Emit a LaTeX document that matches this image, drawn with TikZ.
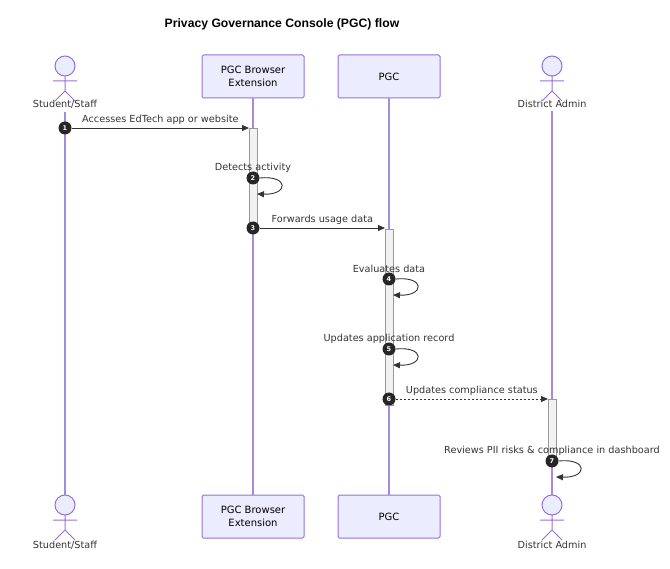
\documentclass[tikz,border=0pt]{standalone}
\usepackage{fontspec}
\setmainfont{DejaVu Sans}
\newfontfamily\titlefont{Liberation Sans}
\usetikzlibrary{arrows.meta}
\definecolor{lifeline}{HTML}{A58BE0}
\definecolor{boxline}{HTML}{9370DB}
\definecolor{boxfill}{HTML}{ECECFF}
\definecolor{msg}{HTML}{333333}
\tikzset{
  part/.style={draw=boxline,fill=boxfill,line width=1pt,rounded corners=1.5pt,minimum width=102pt,minimum height=43pt,align=center,font=\fontsize{10}{13}\selectfont},
  life/.style={draw=lifeline,line width=1.2pt},
  act/.style={draw=gray!80,fill=gray!10,line width=0.6pt},
  msgline/.style={draw=msg,line width=0.9pt,-{Triangle[length=7pt,width=6pt]}},
  seq/.style={circle,fill=black!85,text=white,inner sep=0pt,minimum size=13pt,font=\fontsize{6.5}{6.5}\selectfont\bfseries},
  lbl/.style={font=\fontsize{9.7}{12}\selectfont,text=msg}
}
\newcommand{\actorfig}[2]{%
  \draw[draw=boxline,fill=boxfill,line width=1pt] (#1,#2) circle (10pt);
  \draw[draw=boxline,line width=1pt] (#1,#2+10) -- (#1,#2+25)
    (#1-12,#2+15) -- (#1+12,#2+15)
    (#1-10,#2+35) -- (#1,#2+25) -- (#1+10,#2+35);}
\begin{document}
\begin{tikzpicture}[x=1pt,y=-1pt]
\useasboundingbox (0,0) rectangle (670,569);
\node[font=\titlefont\bfseries\fontsize{12.2}{14}\selectfont] at (282,24) {Privacy Governance Console (PGC) flow};
% participants
\node[part] (extT) at (253,76.5) {PGC Browser\\Extension};
\node[part] (pgcT) at (389,76.5) {PGC};
\node[part] (extB) at (253,516.5) {PGC Browser\\Extension};
\node[part] (pgcB) at (389,516.5) {PGC};
\node[lbl] (stuT) at (65,104) {Student/Staff};
\node[lbl] (admT) at (552,104) {District Admin};
\node[lbl] (stuB) at (65,545) {Student/Staff};
\node[lbl] (admB) at (552,545) {District Admin};
% lifelines
\draw[life] (stuT.south) -- (65,496);
\draw[life] (extT.south) -- (extB.north);
\draw[life] (pgcT.south) -- (pgcB.north);
\draw[life] (admT.south) -- (552,496);
\actorfig{65}{66}
\actorfig{552}{66}
\actorfig{65}{505}
\actorfig{552}{505}
% activations
\draw[act] (249,128) rectangle (257,230);
\draw[act] (385,229) rectangle (393,405);
\draw[act] (548,399) rectangle (556,462);
% messages
\node[seq] (s1) at (65,128) {1};
\coordinate (e1) at (249,128);
\draw[msgline] (s1) -- node[lbl,above=0pt] {Accesses EdTech app or website} (e1);
\node[seq] (s3) at (253,228) {3};
\coordinate (e3) at (385,228);
\draw[msgline] (s3) -- node[lbl,above=0pt] {Forwards usage data} (e3);
\node[seq] (s6) at (389,399) {6};
\coordinate (e6) at (548,399);
\draw[msgline,dash pattern=on 2pt off 2pt] (s6) -- node[lbl,above=0pt] {Updates compliance status} (e6);
\foreach \n/\x/\y/\t in {2/253/178/Detects activity, 4/389/279/Evaluates data, 5/389/349/Updates application record, 7/552/461/Reviews PII risks \& compliance in dashboard}{
  \node[lbl] at (\x,\y-10) {\t};
  \node[seq] (s\n) at (\x,\y) {\n};
  \coordinate (e\n) at (\x+4,\y+16);
  \draw[msgline] (s\n.east) .. controls (\x+36,\y-3) and (\x+36,\y+17) .. (e\n);
}
\end{tikzpicture}
\end{document}
